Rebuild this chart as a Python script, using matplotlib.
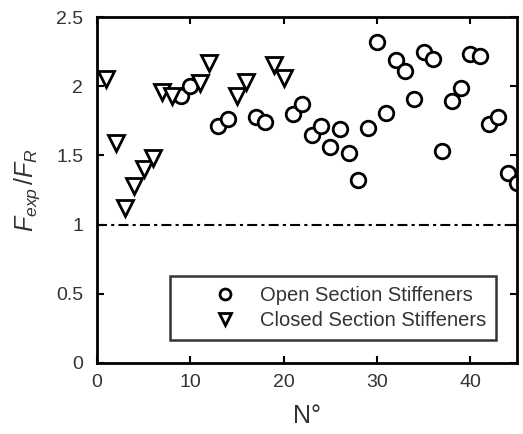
import matplotlib
matplotlib.use("Agg")
import matplotlib.pyplot as plt

plt.rcParams['font.family'] = ['Liberation Sans', 'DejaVu Sans']
plt.rcParams['mathtext.fontset'] = 'custom'
plt.rcParams['mathtext.it'] = 'Liberation Sans:italic'
plt.rcParams['mathtext.rm'] = 'Liberation Sans'

# open section stiffeners (circles)
open_n = [9, 10, 13, 14, 17, 18, 21, 22, 23, 24, 25, 26, 27, 28, 29, 30, 31, 32,
          33, 34, 35, 36, 37, 38, 39, 40, 41, 42, 43, 44, 45]
open_ratio = [1.93, 2.00, 1.71, 1.76, 1.78, 1.74, 1.80, 1.87, 1.65, 1.71, 1.56, 1.69,
              1.52, 1.32, 1.70, 2.32, 1.81, 2.19, 2.11, 1.91, 2.25, 2.20, 1.53, 1.89,
              1.99, 2.23, 2.22, 1.73, 1.78, 1.37, 1.30]

# closed section stiffeners (triangles)
closed_n = [1, 2, 3, 4, 5, 6, 7, 8, 11, 12, 15, 16, 19, 20]
closed_ratio = [2.05, 1.59, 1.12, 1.28, 1.40, 1.48, 1.96, 1.93, 2.02, 2.17, 1.93, 2.03,
                2.15, 2.06]

fig = plt.figure(figsize=(5.23, 4.34), dpi=100)
ax = fig.add_axes([0.1855, 0.1636, 0.803, 0.7972])

ax.plot(open_n, open_ratio, 'o', ms=10.5, mfc='white', mec='black', mew=2,
        label='Open Section Stiffeners')
ax.plot(closed_n, closed_ratio, 'v', ms=11, mfc='white', mec='black', mew=2,
        label='Closed Section Stiffeners')
ax.axhline(1, color='black', lw=1.5, dashes=(4.8, 2, 1.5, 2), zorder=0)

ax.set_xlim(0, 45)
ax.set_ylim(0, 2.5)
ax.set_xticks([0, 10, 20, 30, 40])
ax.set_yticks([0, 0.5, 1, 1.5, 2, 2.5])
ax.set_yticklabels(['0', '0.5', '1', '1.5', '2', '2.5'])
ax.tick_params(direction='in', top=True, right=True, length=5, width=1.5,
               labelsize=14, labelcolor='#333333')
ax.tick_params(axis='y', pad=10)
ax.tick_params(axis='x', pad=8)
for s in ax.spines.values():
    s.set_linewidth(2)

ax.set_xlabel('N°', fontsize=18, color='#333333', labelpad=9)
ax.set_ylabel(r'$F_{exp}\,/F_R$', fontsize=18, color='#333333', labelpad=10)

leg = ax.legend(loc='lower right', bbox_to_anchor=(0.95, 0.066), borderaxespad=0,
                fontsize=14.5, frameon=True, fancybox=False, edgecolor='black',
                markerscale=0.75, handlelength=4.5, handletextpad=-0.55,
                borderpad=0.5, labelspacing=0.3)
leg.get_frame().set_linewidth(1.8)
for t in leg.get_texts():
    t.set_color('#333333')

fig.savefig('out.png', dpi=100)
